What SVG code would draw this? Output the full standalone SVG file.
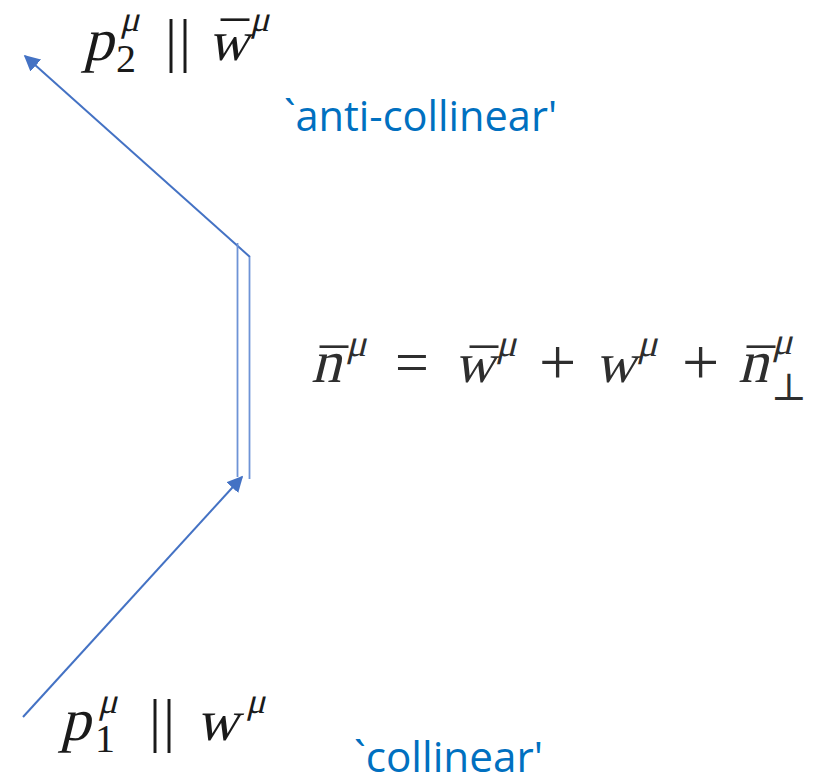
<svg xmlns="http://www.w3.org/2000/svg" width="818" height="780" viewBox="0 0 818 780">
<style>
.m{font-family:'Liberation Serif','DejaVu Serif',serif;font-style:normal;fill:#1a1a1a}
.u{font-family:'Liberation Serif','DejaVu Serif',serif;font-style:normal;fill:#1a1a1a}
.eq{fill:#2e2e2e}
.lbl{font-family:'Open Sans','Liberation Sans',sans-serif;fill:#0070C0;font-size:42px}
.ln{stroke:#4472C4;stroke-width:2;fill:none}
.dl{stroke:#6E93D6;stroke-width:1.8;fill:none}
</style>
<defs>
<marker id="a2" viewBox="0 0 10 10" refX="9" refY="5" markerWidth="8" markerHeight="8" orient="auto">
<path d="M0,0 L10,5 L0,10 z" fill="#4472C4"/>
</marker>
</defs>
<g id="connectors">
<line class="ln" x1="250" y1="257" x2="25" y2="56" marker-end="url(#a2)"/>
<line class="ln" x1="23" y1="717" x2="242" y2="477" marker-end="url(#a2)"/>
<line class="dl" x1="237.5" y1="243" x2="237.5" y2="477"/>
<line class="dl" x1="249.5" y1="257" x2="249.5" y2="479"/>
</g>
<g id="label-p2">
<text class="m" transform="translate(83,60) skewX(-14)" font-size="60">p</text>
<text class="m" transform="translate(120,31) skewX(-14)" font-size="36">μ</text>
<text class="u" x="116" y="72" font-size="40">2</text>
<text class="u" x="165 179" y="60" font-size="60">||</text>
<text class="m" transform="translate(208,60) skewX(-14)" font-size="56">w</text>
<text class="u" x="221" y="62" font-size="56">¯</text>
<text class="m" transform="translate(250,31) skewX(-14)" font-size="36">μ</text>
</g>
<g id="label-anti">
<text class="lbl" x="284" y="131" textLength="273" lengthAdjust="spacingAndGlyphs">`anti-collinear'</text>
</g>
<g id="equation">
<text class="m eq" transform="translate(311,382) skewX(-14)" font-size="60">n</text>
<text class="u eq" x="320" y="389" font-size="56">¯</text>
<text class="m eq" transform="translate(346,356) skewX(-14)" font-size="38">μ</text>
<text class="u eq" x="395" y="382" font-size="60">=</text>
<text class="m eq" transform="translate(454,382) skewX(-14)" font-size="56">w</text>
<text class="u eq" x="470" y="389" font-size="56">¯</text>
<text class="m eq" transform="translate(496,356) skewX(-14)" font-size="38">μ</text>
<text class="u eq" x="539" y="384" font-size="66">+</text>
<text class="m eq" transform="translate(595,382) skewX(-14)" font-size="56">w</text>
<text class="m eq" transform="translate(637,356) skewX(-14)" font-size="38">μ</text>
<text class="u eq" x="682" y="384" font-size="66">+</text>
<text class="m eq" transform="translate(738,382) skewX(-14)" font-size="60">n</text>
<text class="u eq" x="747" y="389" font-size="56">¯</text>
<text class="m eq" transform="translate(772,354) skewX(-14)" font-size="38">μ</text>
<text class="u eq" x="771" y="400" font-size="38">⊥</text>
</g>
<g id="label-p1">
<text class="m" transform="translate(60,740) skewX(-14)" font-size="60">p</text>
<text class="m" transform="translate(98,713) skewX(-14)" font-size="36">μ</text>
<text class="u" x="95" y="752" font-size="40">1</text>
<text class="u" x="149 163" y="740" font-size="60">||</text>
<text class="m" transform="translate(196,740) skewX(-14)" font-size="58">w</text>
<text class="m" transform="translate(246,713) skewX(-14)" font-size="36">μ</text>
</g>
<g id="label-col">
<text class="lbl" x="354" y="772" textLength="189" lengthAdjust="spacingAndGlyphs">`collinear'</text>
</g>
</svg>
